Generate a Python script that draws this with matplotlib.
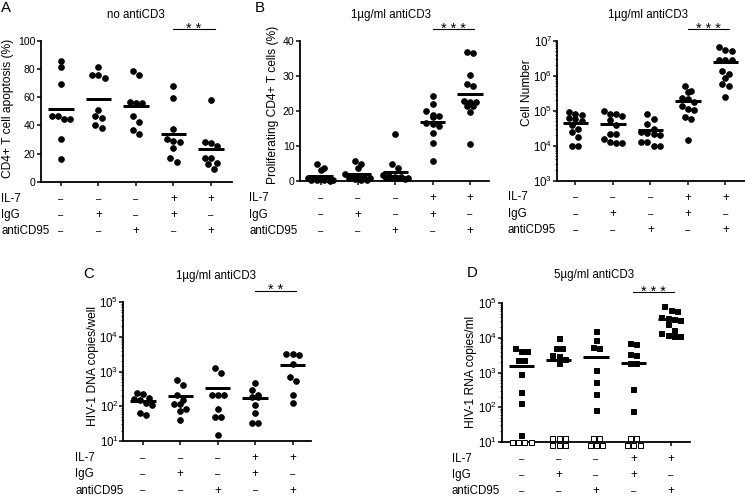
import numpy as np
import matplotlib
matplotlib.use('Agg')
import matplotlib.pyplot as plt
import matplotlib.transforms as mtransforms
from matplotlib.ticker import LogLocator, NullFormatter, FixedLocator

plt.rcParams['font.family'] = ['Liberation Sans', 'DejaVu Sans']
plt.rcParams['mathtext.fontset'] = 'custom'
plt.rcParams['mathtext.rm'] = 'Liberation Sans'
plt.rcParams['mathtext.it'] = 'Liberation Sans:italic'
plt.rcParams['mathtext.bf'] = 'Liberation Sans:bold'

W, H, DPI = 745, 496, 72

# condition rows under every panel
row_names = ['IL-7', 'IgG', 'antiCD95']
il7 = ['-', '-', '-', '+', '+']
igg = ['-', '+', '-', '+', '-']
anti95 = ['-', '-', '+', '-', '+']

# A: apoptosis (%), no antiCD3
apo = [
    [81, 85.6, 69.4, 46.4, 44.2, 44.2, 46.4, 30.1, 15.8],
    [81.2, 75.5, 73.6, 75.5, 50.8, 46.4, 45.0, 37.9, 40.5],
    [78.6, 75.5, 56.5, 55.5, 55.5, 46.4, 42.6, 33.9, 36.5],
    [68.0, 59.5, 37.2, 30.1, 28.2, 28.9, 24.0, 14.1, 16.5],
    [57.9, 28.2, 25.4, 27.5, 16.9, 16.5, 13.2, 12.5, 8.7],
]

# B: proliferating CD4+ T cells (%)
prolif = [
    [3.8, 3.3, 4.9, 1.0, 0.8, 0.7, 0.6, 0.5, 0.4, 0.3, 0.2, 0.3],
    [5.0, 3.9, 5.7, 2.0, 1.5, 1.2, 1.0, 0.8, 0.6, 0.4, 0.3, 1.6],
    [13.4, 5.0, 3.9, 1.8, 1.5, 1.3, 1.1, 1.0, 0.9, 0.8, 0.7, 1.0],
    [24.3, 21.9, 20.0, 18.6, 19.0, 18.2, 16.3, 15.8, 16.5, 13.6, 11.0, 5.7],
    [36.8, 36.6, 30.1, 27.6, 27.2, 21.3, 22.7, 22.7, 22.9, 19.6, 21.3, 10.5],
]

# B (right): cell number
cells = [
    [93300, 74100, 77600, 60300, 56200, 50100, 39800, 29500, 25100, 17800, 10000, 10000],
    [95500, 77600, 69200, 79400, 52500, 38000, 21900, 21400, 12600, 12000, 12000, 15100],
    [77600, 58900, 42700, 30000, 24500, 22900, 20400, 21900, 12600, 10000, 10000, 12600],
    [331000, 363000, 513000, 214000, 229000, 180000, 135000, 110000, 102000, 66100, 56200, 14100],
    [6.46e6, 5.13e6, 5.5e6, 2.82e6, 2.82e6, 2.82e6, 1.38e6, 1.1e6, 8.3e5, 5.75e5, 5.13e5, 2.4e5],
]

# C: HIV-1 DNA copies/well
dna = [
    [229, 245, 126, 112, 148, 158, 178, 66, 55],
    [562, 398, 117, 214, 117, 85, 71, 39, 150],
    [933, 1259, 214, 214, 214, 85, 48, 48, 15],
    [468, 288, 186, 107, 62, 32, 32, 186, 204],
    [3162, 2951, 3162, 1660, 692, 525, 204, 126],
]

# D: HIV-1 RNA copies/ml, filled = detected, open = below detection
rna = [
    [4169, 4169, 5248, 2291, 2291, 912, 269, 135, 15.5],
    [9772, 5012, 5012, 3090, 3236, 1862, 2400],
    [15849, 8710, 5012, 5370, 1175, 537, 240, 85],
    [6607, 6918, 3236, 3388, 1905, 1905, 331, 78],
    [64600, 60300, 83200, 38900, 35500, 37200, 33100, 24500, 17000, 11700, 11000, 12000, 13500],
]
rna_undet = [
    [10, 10, 10, 10],
    [13, 13, 13, 8, 8, 8],
    [13, 13, 8, 8, 8],
    [13, 13, 8, 8, 8],
    [],
]

fig = plt.figure(figsize=(W / DPI, H / DPI), dpi=DPI)


def px(x, y):
    return x / W, 1 - y / H


def make_axes(left, top, right, bottom, xlim, ylim, log=False):
    ax = fig.add_axes([left / W, 1 - bottom / H, (right - left) / W, (bottom - top) / H])
    if log:
        ax.set_yscale('log')
    ax.set_xlim(*xlim)
    ax.set_ylim(*ylim)
    for s in ['top', 'right']:
        ax.spines[s].set_visible(False)
    for s in ['left', 'bottom']:
        ax.spines[s].set_linewidth(1.8)
    ax.set_xticks(range(5))
    ax.set_xticklabels([])
    ax.tick_params(axis='both', which='major', direction='out', length=4.5, width=1.5,
                   labelsize=10.5, pad=1)
    ax.tick_params(axis='x', which='major', length=4)
    if log:
        lo, hi = [int(round(np.log10(v))) for v in ylim]
        ax.yaxis.set_major_locator(FixedLocator([10.0 ** k for k in range(lo, hi + 1)]))
        ax.set_yticklabels([r'$10^{%d}$' % k for k in range(lo, hi + 1)])
        ax.tick_params(axis='y', which='major', labelsize=11.5, pad=0)
        ax.yaxis.set_minor_locator(LogLocator(base=10, subs=np.arange(2, 10)))
        ax.yaxis.set_minor_formatter(NullFormatter())
        ax.tick_params(axis='y', which='minor', length=2, width=0.8)
    return ax


def swarm_x(ax, i, vals, d=6.2, thr=5.5, cap=5):
    vals = np.asarray(vals, dtype=float)
    if len(vals) == 0:
        return vals
    ypx = ax.transData.transform(np.column_stack([np.full(len(vals), i), vals]))[:, 1]
    unit = ax.transData.transform([(1, 1)])[0, 0] - ax.transData.transform([(0, 1)])[0, 0]
    order = np.argsort(-ypx)
    rows = []
    for k in order:
        if rows and abs(ypx[k] - ypx[rows[-1][0]]) < thr and len(rows[-1]) < cap:
            rows[-1].append(k)
        else:
            rows.append([k])
    xs = np.zeros(len(vals))
    for r in rows:
        n = len(r)
        for j, k in enumerate(r):
            xs[k] = i + (j - (n - 1) / 2) * d / unit
    return xs


def draw_groups(ax, groups, marker='o', ms=5.6, opens=None):
    for i, g in enumerate(groups):
        allv = list(g)
        og = opens[i] if opens else []
        if og:
            ax.plot(swarm_x(ax, i, og), og, ls='none', marker=marker, ms=ms,
                    mfc='white', mec='black', mew=1.0, clip_on=False, zorder=3)
            allv += list(og)
        ax.plot(swarm_x(ax, i, g), g, ls='none', marker=marker, ms=ms,
                color='black', clip_on=False, zorder=3)
        m = np.mean(allv)
        ax.plot([i - 0.34, i + 0.34], [m, m], color='black', lw=3,
                solid_capstyle='butt', zorder=4)


def decorate(ax, title, title_xy, ylabel, ylab_xy, stars, name_x, letter=None, letter_xy=None):
    fig.text(*px(*title_xy), title, ha='center', va='center', fontsize=11.5)
    fig.text(*px(*ylab_xy), ylabel, ha='center', va='center', rotation=90, fontsize=12)
    if letter:
        fig.text(*px(*letter_xy), letter, ha='left', va='center', fontsize=15)
    # significance bar between groups 4 and 5
    tr = mtransforms.blended_transform_factory(ax.transData, ax.transAxes)
    tr = tr + mtransforms.ScaledTranslation(0, 11.5 / DPI, fig.dpi_scale_trans)
    ax.plot([3.0, 4.1], [1, 1], color='black', lw=1.1, transform=tr, clip_on=False)
    ax.annotate(stars, xy=(3.55, 1), xycoords=('data', 'axes fraction'),
                xytext=(0, 7.5), textcoords='offset points', ha='center',
                va='baseline', fontsize=14.5)
    # condition table
    left_px = ax.get_position().x0 * W
    for r, (name, signs) in enumerate(zip(row_names, [il7, igg, anti95])):
        dy = -(17 + r * 16.3)
        ax.annotate(name, xy=(0, 0), xycoords='axes fraction',
                    xytext=(name_x - left_px, dy), textcoords='offset points',
                    ha='left', va='center', fontsize=11.5)
        for i, s in enumerate(signs):
            if s == '-':
                txt, fs = '–', 9.5
            else:
                txt, fs = '+', 11.5
            ax.annotate(txt, xy=(i, 0), xycoords=('data', 'axes fraction'),
                        xytext=(0, dy), textcoords='offset points',
                        ha='center', va='center', fontsize=fs)


# A
axA = make_axes(41, 40.7, 232, 181.7, (-0.53, 4.56), (0, 100))
axA.set_yticks([0, 20, 40, 60, 80, 100])
draw_groups(axA, apo)
decorate(axA, 'no antiCD3', (136, 15), 'CD4+ T cell apoptosis (%)', (8, 108),
         '* *', 1, 'A', (1, 8))

# B left
axB = make_axes(300, 40.7, 489, 181.3, (-0.55, 4.51), (0, 40))
axB.set_yticks([0, 10, 20, 30, 40])
draw_groups(axB, prolif)
decorate(axB, '1µg/ml antiCD3', (391, 15), 'Proliferating CD4+ T cells (%)', (273, 105),
         '* * *', 249, 'B', (255, 8))

# B right
axB2 = make_axes(557, 40.7, 745, 180.5, (-0.49, 4.52), (1e3, 1e7), log=True)
draw_groups(axB2, cells)
decorate(axB2, '1µg/ml antiCD3', (648, 15), 'Cell Number', (527, 93),
         '* * *', 508)

# C
axC = make_axes(123, 302, 311, 441, (-0.53, 4.49), (10, 1e5), log=True)
draw_groups(axC, dna)
decorate(axC, '1µg/ml antiCD3', (216, 276), 'HIV-1 DNA copies/well', (93, 366),
         '* *', 75, 'C', (83, 274))

# D
axD = make_axes(501.5, 303.3, 689.7, 441.7, (-0.53, 4.51), (10, 1e5), log=True)
draw_groups(axD, rna, marker='s', ms=5.0, opens=rna_undet)
decorate(axD, '5µg/ml antiCD3', (594, 275), 'HIV-1 RNA copies/ml', (471, 371.5),
         '* * *', 452, 'D', (467, 273))

fig.savefig('out.png', dpi=DPI, facecolor='white')
